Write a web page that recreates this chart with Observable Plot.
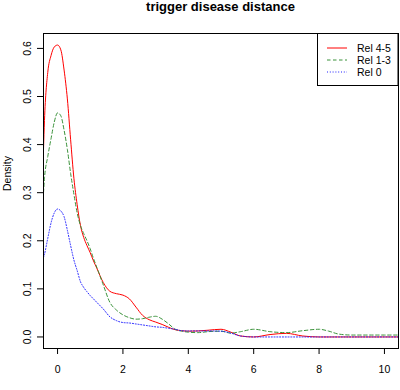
<!DOCTYPE html>
<html>
<head>
<meta charset="utf-8">
<script src="https://cdn.jsdelivr.net/npm/d3@7"></script>
<script src="https://cdn.jsdelivr.net/npm/@observablehq/plot@0.6"></script>
<style>
  body { margin: 0; background: #fff; font-family: "Liberation Sans", Arial, sans-serif; }
  #wrap { position: relative; width: 400px; height: 390px; }
  #title { position: relative; height: 24px; margin-left: 43px; width: 355px; text-align: center;
           font-size: 13px; line-height: 13px; font-weight: bold; color: #000; }
  #legend { position: absolute; left: 0; top: 0; pointer-events: none; }
</style>
</head>
<body>
<div id="wrap">
  <div id="title">trigger disease distance</div>
  <div id="chart"></div>
  <svg id="legend" width="400" height="390"></svg>
</div>
<script>
// Evaluation grid (distance) shared by the three density estimates
const xGrid = [-0.43, -0.4, -0.3, -0.2, -0.1, 0, 0.1, 0.2, 0.3, 0.4, 0.5, 0.6, 0.7, 0.8, 0.9, 1.0, 1.1, 1.2,
  1.4, 1.6, 1.8, 2.0, 2.2, 2.4, 2.6, 2.8, 3.0, 3.2, 3.4, 3.6, 3.8, 4.0, 4.3, 4.6, 5.0, 5.3, 5.6, 6.0,
  6.5, 7.0, 7.5, 8.0, 8.3, 8.6, 9.0, 9.5, 10.0, 10.43];

// Density values for each relevance group
const rel45 = [0.39, 0.45, 0.55, 0.585, 0.603, 0.607, 0.597, 0.555, 0.495, 0.41, 0.33, 0.275, 0.232, 0.207, 0.19, 0.175, 0.158, 0.143,
  0.113, 0.095, 0.090, 0.087, 0.079, 0.062, 0.045, 0.036, 0.031, 0.026, 0.020, 0.015, 0.013, 0.012, 0.0125, 0.014, 0.016, 0.010, 0.002, 0.0,
  0.005, 0.0075, 0.002, 0.0, 0.0, 0.0, 0.0, 0.0, 0.0, 0.0];
const rel13 = [0.30, 0.33, 0.375, 0.412, 0.447, 0.466, 0.46, 0.43, 0.39, 0.34, 0.297, 0.258, 0.232, 0.215, 0.200, 0.183, 0.163, 0.145,
  0.108, 0.072, 0.056, 0.046, 0.040, 0.037, 0.038, 0.041, 0.043, 0.037, 0.027, 0.016, 0.012, 0.010, 0.009, 0.011, 0.012, 0.008, 0.011, 0.016,
  0.011, 0.009, 0.013, 0.016, 0.012, 0.006, 0.004, 0.004, 0.004, 0.004];
const rel0 = [0.165, 0.172, 0.205, 0.237, 0.258, 0.266, 0.262, 0.25, 0.222, 0.19, 0.16, 0.138, 0.115, 0.103, 0.094, 0.086, 0.079, 0.072,
  0.058, 0.042, 0.034, 0.030, 0.029, 0.027, 0.025, 0.023, 0.021, 0.020, 0.018, 0.016, 0.013, 0.0125, 0.0125, 0.0125, 0.012, 0.008, 0.002, 0.0,
  0.0, 0.0, 0.0, 0.0, 0.0, 0.0, 0.0, 0.0, 0.0, 0.0];

const seriesNames = ["Rel 4-5", "Rel 1-3", "Rel 0"];
const seriesColors = ["#ff0000", "#3a923a", "#2020ff"];
const seriesDash = [null, "3.5,2.5", "1,1.8"];
const seriesValues = [rel45, rel13, rel0];

const xTicks = [0, 2, 4, 6, 8, 10];
const yTicks = [0, 0.1, 0.2, 0.3, 0.4, 0.5, 0.6];

const font = "Liberation Sans, Arial, sans-serif";

const lineMarks = seriesNames.map((name, i) =>
  Plot.line(xGrid.map((x, j) => ({x, y: seriesValues[i][j]})), {
    x: "x", y: "y", stroke: seriesColors[i], strokeWidth: 1,
    strokeDasharray: seriesDash[i] ?? undefined, curve: "monotone-x", clip: true
  })
);

const chart = Plot.plot({
  width: 400,
  height: 366,
  marginTop: 9,
  marginBottom: 42,
  marginLeft: 43,
  marginRight: 2,
  style: {fontFamily: font, fontSize: "10.5px", color: "#000", background: "#fff", overflow: "visible"},
  x: {domain: [-0.43, 10.43]},
  y: {domain: [-0.024, 0.631]},
  marks: [
    ...lineMarks,
    Plot.frame({stroke: "#000", strokeWidth: 1}),
    Plot.axisX({ticks: xTicks, tickSize: 6, tickPadding: 11, label: null, tickFormat: d => String(d)}),
    Plot.axisY({ticks: yTicks, tickSize: 6, tickPadding: 7, tickRotate: -90, label: null, tickFormat: d3.format(".1f")}),
    Plot.text(["Density"], {frameAnchor: "left", dx: -36, rotate: -90, fontSize: 10.5})
  ]
});
document.getElementById("chart").appendChild(chart);

// Legend in the top-right corner of the plotting region
const leg = d3.select("#legend");
const box = {x: 317.5, y: 33.5, w: 80.5, h: 52};
leg.append("rect")
  .attr("x", box.x).attr("y", box.y).attr("width", box.w).attr("height", box.h)
  .attr("fill", "#fff").attr("stroke", "#000").attr("stroke-width", 1);
seriesNames.forEach((name, i) => {
  const y = 48 + i * 12;
  leg.append("line")
    .attr("x1", 327).attr("x2", 347).attr("y1", y).attr("y2", y)
    .attr("stroke", seriesColors[i]).attr("stroke-width", 1)
    .attr("stroke-dasharray", seriesDash[i]);
  leg.append("text")
    .attr("x", 357).attr("y", y).attr("dy", "0.35em")
    .attr("font-family", font).attr("font-size", 10.5).attr("fill", "#000")
    .text(name);
});
</script>
</body>
</html>
